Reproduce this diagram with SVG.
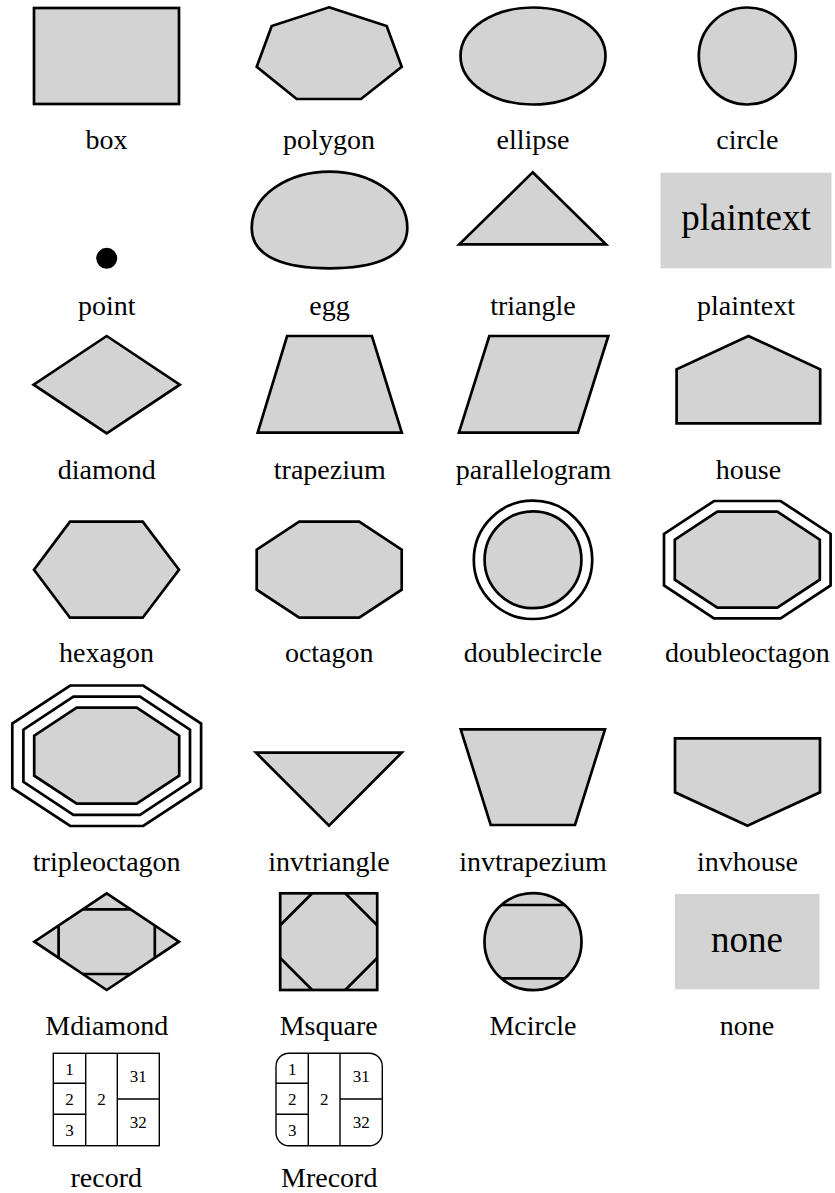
<svg xmlns="http://www.w3.org/2000/svg" width="835" height="1193" viewBox="0 0 835 1193">
<style>
.s{fill:#d3d3d3;stroke:#000;stroke-width:2.7;stroke-linejoin:miter}
.o{fill:none;stroke:#000;stroke-width:2.7}
.ln{fill:none;stroke:#000;stroke-width:2.7}
.r{fill:none;stroke:#000;stroke-width:1.4}
.pt{fill:#d3d3d3;stroke:none}
.lbl{font-family:"Liberation Serif","Times New Roman",serif;font-size:28px;text-anchor:middle;fill:#000}
.big{font-family:"Liberation Serif","Times New Roman",serif;font-size:37px;text-anchor:middle;fill:#000}
.rt{font-family:"Liberation Serif","Times New Roman",serif;font-size:17px;text-anchor:middle;fill:#000}
</style>
<rect width="835" height="1193" fill="#fff"/>
<g id="connectors"></g>

<g id="box"><rect class="s" x="34" y="8" width="145" height="96"/><text class="lbl" x="106.5" y="149">box</text></g>
<g id="polygon"><polygon class="s" points="329,7.3 386.7,26 401.7,66.7 361,99 296.7,99 256.7,66.7 271.7,26"/><text class="lbl" x="329" y="149">polygon</text></g>
<g id="ellipse"><ellipse class="s" cx="533" cy="56" rx="72.5" ry="48.5"/><text class="lbl" x="533" y="149">ellipse</text></g>
<g id="circle"><circle class="s" cx="747.3" cy="56" r="48.5"/><text class="lbl" x="747.3" y="149">circle</text></g>

<g id="point"><circle cx="106.7" cy="258.3" r="10.5" fill="#000"/><text class="lbl" x="106.7" y="315">point</text></g>
<g id="egg"><path class="s" d="M251.7,228 C251.7,193 291,171.7 329.5,171.7 C368,171.7 407.3,193 407.3,228 C407.3,259 370,268.3 329.5,268.3 C289,268.3 251.7,259 251.7,228 Z"/><text class="lbl" x="329.5" y="315">egg</text></g>
<g id="triangle"><polygon class="s" points="532.7,172.3 606,244.3 459.3,244.3"/><text class="lbl" x="533" y="315">triangle</text></g>
<g id="plaintext"><rect class="pt" x="660.5" y="172.7" width="171" height="95.6"/><text class="big" x="746" y="230">plaintext</text><text class="lbl" x="746" y="315">plaintext</text></g>

<g id="diamond"><polygon class="s" points="106.7,336 179.8,384.7 106.7,433.3 33.6,384.7"/><text class="lbl" x="106.7" y="479">diamond</text></g>
<g id="trapezium"><polygon class="s" points="287.1,336 371.9,336 401.8,432.7 257.7,432.7"/><text class="lbl" x="329.8" y="479">trapezium</text></g>
<g id="parallelogram"><polygon class="s" points="489.3,336 608.3,336 577.9,432.7 458.9,432.7"/><text class="lbl" x="533.5" y="479">parallelogram</text></g>
<g id="house"><polygon class="s" points="748.4,336 820.2,369.3 820.2,423.3 676.6,423.3 676.6,369.3"/><text class="lbl" x="748.4" y="479">house</text></g>

<g id="hexagon"><polygon class="s" points="70,521.7 142.7,521.7 179,569.7 142.7,617.7 70,617.7 34,569.7"/><text class="lbl" x="106.5" y="662">hexagon</text></g>
<g id="octagon"><polygon class="s" points="299.2,521.7 359.2,521.7 401.7,549.7 401.7,589.7 359.2,617.7 299.2,617.7 256.7,589.7 256.7,549.7"/><text class="lbl" x="329.2" y="662">octagon</text></g>
<g id="doublecircle"><circle class="o" cx="533" cy="559.8" r="59.2"/><circle class="s" cx="533" cy="559.8" r="48.4"/><text class="lbl" x="533" y="662">doublecircle</text></g>
<g id="doubleoctagon"><polygon class="o" points="714,501 780.6,501 830.6,533.9 830.6,585.5 780.6,618.4 714,618.4 664,585.5 664,533.9"/><polygon class="s" points="717.3,511.7 777.3,511.7 819.8,539.7 819.8,579.7 777.3,607.7 717.3,607.7 674.8,579.7 674.8,539.7"/><text class="lbl" x="747.3" y="662">doubleoctagon</text></g>

<g id="tripleoctagon"><polygon class="o" points="70.2,685.5 143.2,685.5 201.1,723.5 201.1,788 143.2,826 70.2,826 12.3,788 12.3,723.5"/><polygon class="o" points="73.4,696.6 140,696.6 190,729.7 190,781.8 140,814.9 73.4,814.9 23.4,781.8 23.4,729.7"/><polygon class="s" points="76.7,707.7 136.7,707.7 179.2,735.7 179.2,775.7 136.7,803.7 76.7,803.7 34.2,775.7 34.2,735.7"/><text class="lbl" x="106.7" y="871">tripleoctagon</text></g>
<g id="invtriangle"><polygon class="s" points="256,752.7 401.7,752.7 329,825.7"/><text class="lbl" x="329" y="871">invtriangle</text></g>
<g id="invtrapezium"><polygon class="s" points="460.7,729.3 605,729.3 575,825 490.7,825"/><text class="lbl" x="533" y="871">invtrapezium</text></g>
<g id="invhouse"><polygon class="s" points="675,738.3 820,738.3 820,792.3 747.5,825.7 675,792.3"/><text class="lbl" x="747.5" y="871">invhouse</text></g>

<g id="Mdiamond"><polygon class="s" points="106.7,893.3 179,941.7 106.7,990 34.4,941.7"/><path class="ln" d="M82.7,909.4 H130.7 M82.7,974 H130.7 M58.6,925.6 V957.8 M154.8,925.6 V957.8"/><text class="lbl" x="106.7" y="1035">Mdiamond</text></g>
<g id="Msquare"><rect class="s" x="280.2" y="893.3" width="97" height="96.7"/><path class="ln" d="M312.2,893.3 L280.2,925.3 M345.2,893.3 L377.2,925.3 M280.2,958 L312.2,990 M377.2,958 L345.2,990"/><text class="lbl" x="328.7" y="1035">Msquare</text></g>
<g id="Mcircle"><circle class="s" cx="533" cy="941.7" r="48.5"/><path class="ln" d="M501.2,905 H564.8 M501.2,978.4 H564.8"/><text class="lbl" x="533" y="1035">Mcircle</text></g>
<g id="none"><rect class="pt" x="675" y="894" width="144.5" height="95.3"/><text class="big" x="747" y="951.7">none</text><text class="lbl" x="747" y="1035">none</text></g>

<g id="record"><rect class="r" x="53.3" y="1053.3" width="106" height="92.4"/><path class="r" d="M85.7,1053.3 V1145.7 M117.3,1053.3 V1145.7 M53.3,1083.3 H85.7 M53.3,1114.3 H85.7 M117.3,1099 H159.3"/>
<text class="rt" x="69.5" y="1074.5">1</text><text class="rt" x="69.5" y="1105">2</text><text class="rt" x="69.5" y="1136">3</text><text class="rt" x="101.5" y="1105">2</text><text class="rt" x="138.3" y="1082">31</text><text class="rt" x="138.3" y="1128">32</text>
<text class="lbl" x="106.3" y="1187">record</text></g>
<g id="Mrecord"><rect class="r" x="276" y="1053.3" width="106.3" height="92.4" rx="13" ry="13"/><path class="r" d="M308.3,1053.3 V1145.7 M340,1053.3 V1145.7 M276,1083.3 H308.3 M276,1114.3 H308.3 M340,1099 H382.3"/>
<text class="rt" x="292.2" y="1074.5">1</text><text class="rt" x="292.2" y="1105">2</text><text class="rt" x="292.2" y="1136">3</text><text class="rt" x="324.2" y="1105">2</text><text class="rt" x="361.2" y="1082">31</text><text class="rt" x="361.2" y="1128">32</text>
<text class="lbl" x="329.2" y="1187">Mrecord</text></g>
</svg>
